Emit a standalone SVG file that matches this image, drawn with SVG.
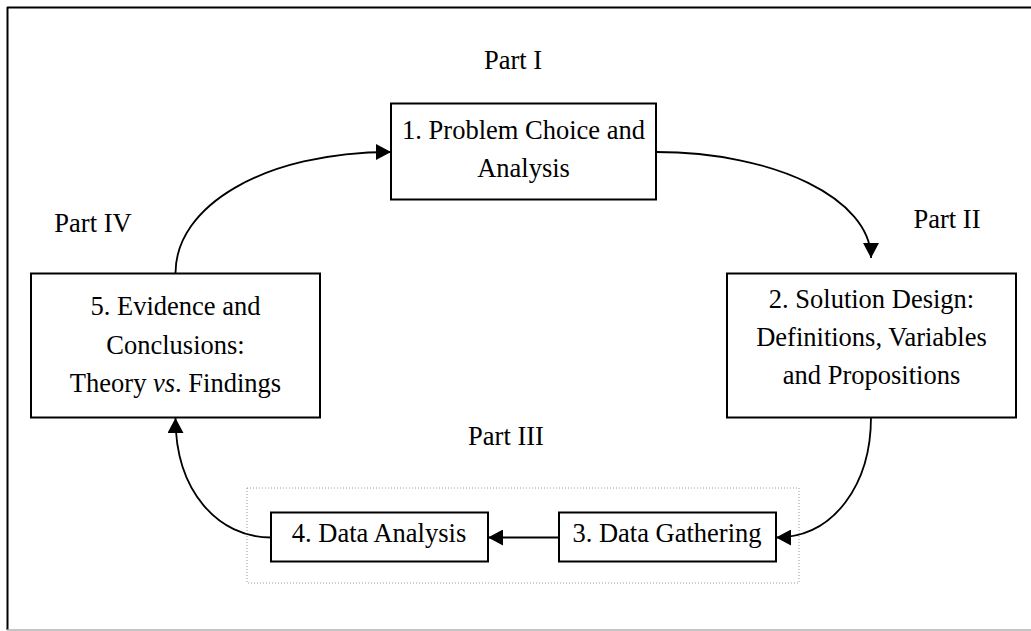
<svg xmlns="http://www.w3.org/2000/svg" width="1031" height="631" viewBox="0 0 1031 631">
  <style>
    .box { fill: #ffffff; stroke: #000000; stroke-width: 2; }
    .lbl { font-family: 'Liberation Serif', 'DejaVu Serif', serif; font-size: 26.5px; fill: #000000; text-anchor: middle; }
    .edge { fill: none; stroke: #000000; stroke-width: 1.8; marker-end: url(#arrow); }
  </style>
  <defs>
    <marker id="arrow" viewBox="0 0 15 16" refX="15" refY="8" markerWidth="15" markerHeight="16" markerUnits="userSpaceOnUse" orient="auto">
      <path d="M0,0 L15,8 L0,16 Z" fill="#000000"/>
    </marker>
  </defs>

  <rect width="1031" height="631" fill="#ffffff"/>

  <!-- page frame -->
  <g id="frame">
    <line x1="7" y1="7.5" x2="1031" y2="7.5" stroke="#000000" stroke-width="2"/>
    <line x1="7.5" y1="7" x2="7.5" y2="630" stroke="#000000" stroke-width="2"/>
    <line x1="7" y1="630" x2="1031" y2="630" stroke="#b0b0b0" stroke-width="1.5"/>
  </g>

  <!-- Part III grouping -->
  <g id="group-part3">
    <rect x="247" y="488" width="552" height="95" fill="none" stroke="#9a9a9a" stroke-width="1" stroke-dasharray="1,2"/>
  </g>

  <!-- part labels -->
  <g id="part-labels" font-family="Liberation Serif, serif">
    <text class="lbl" x="513" y="69">Part I</text>
    <text class="lbl" x="947" y="228">Part II</text>
    <text class="lbl" x="506" y="445">Part III</text>
    <text class="lbl" x="93" y="232">Part IV</text>
  </g>

  <!-- connectors -->
  <g id="connectors">
    <path class="edge" d="M656,152 C775,152 871,199 871,258"/>
    <path class="edge" d="M871,417 C871,483 835,537.5 776,537.5"/>
    <line class="edge" x1="559" y1="537.5" x2="488" y2="537.5"/>
    <path class="edge" d="M271,537.5 C218,537.5 175.5,491 175.5,418"/>
    <path class="edge" d="M175.5,273 C175.5,206 264,152 391,152"/>
  </g>

  <g id="node1">
    <rect class="box" x="391" y="103.5" width="265" height="96"/>
    <text class="lbl" x="523.5" y="139">1. Problem Choice and</text>
    <text class="lbl" x="523.5" y="177">Analysis</text>
  </g>

  <g id="node2">
    <rect class="box" x="727" y="273.5" width="289" height="144"/>
    <text class="lbl" x="871.5" y="308">2. Solution Design:</text>
    <text class="lbl" x="871.5" y="346">Definitions, Variables</text>
    <text class="lbl" x="871.5" y="384">and Propositions</text>
  </g>

  <g id="node3">
    <rect class="box" x="559" y="512.5" width="217" height="49"/>
    <text class="lbl" x="667" y="542">3. Data Gathering</text>
  </g>

  <g id="node4">
    <rect class="box" x="271" y="512.5" width="217" height="49"/>
    <text class="lbl" x="379" y="542">4. Data Analysis</text>
  </g>

  <g id="node5">
    <rect class="box" x="31" y="273.5" width="289" height="144"/>
    <text class="lbl" x="175.5" y="315">5. Evidence and</text>
    <text class="lbl" x="175.5" y="354">Conclusions:</text>
    <text class="lbl" x="175.5" y="392">Theory <tspan font-style="italic">vs</tspan>. Findings</text>
  </g>
</svg>
